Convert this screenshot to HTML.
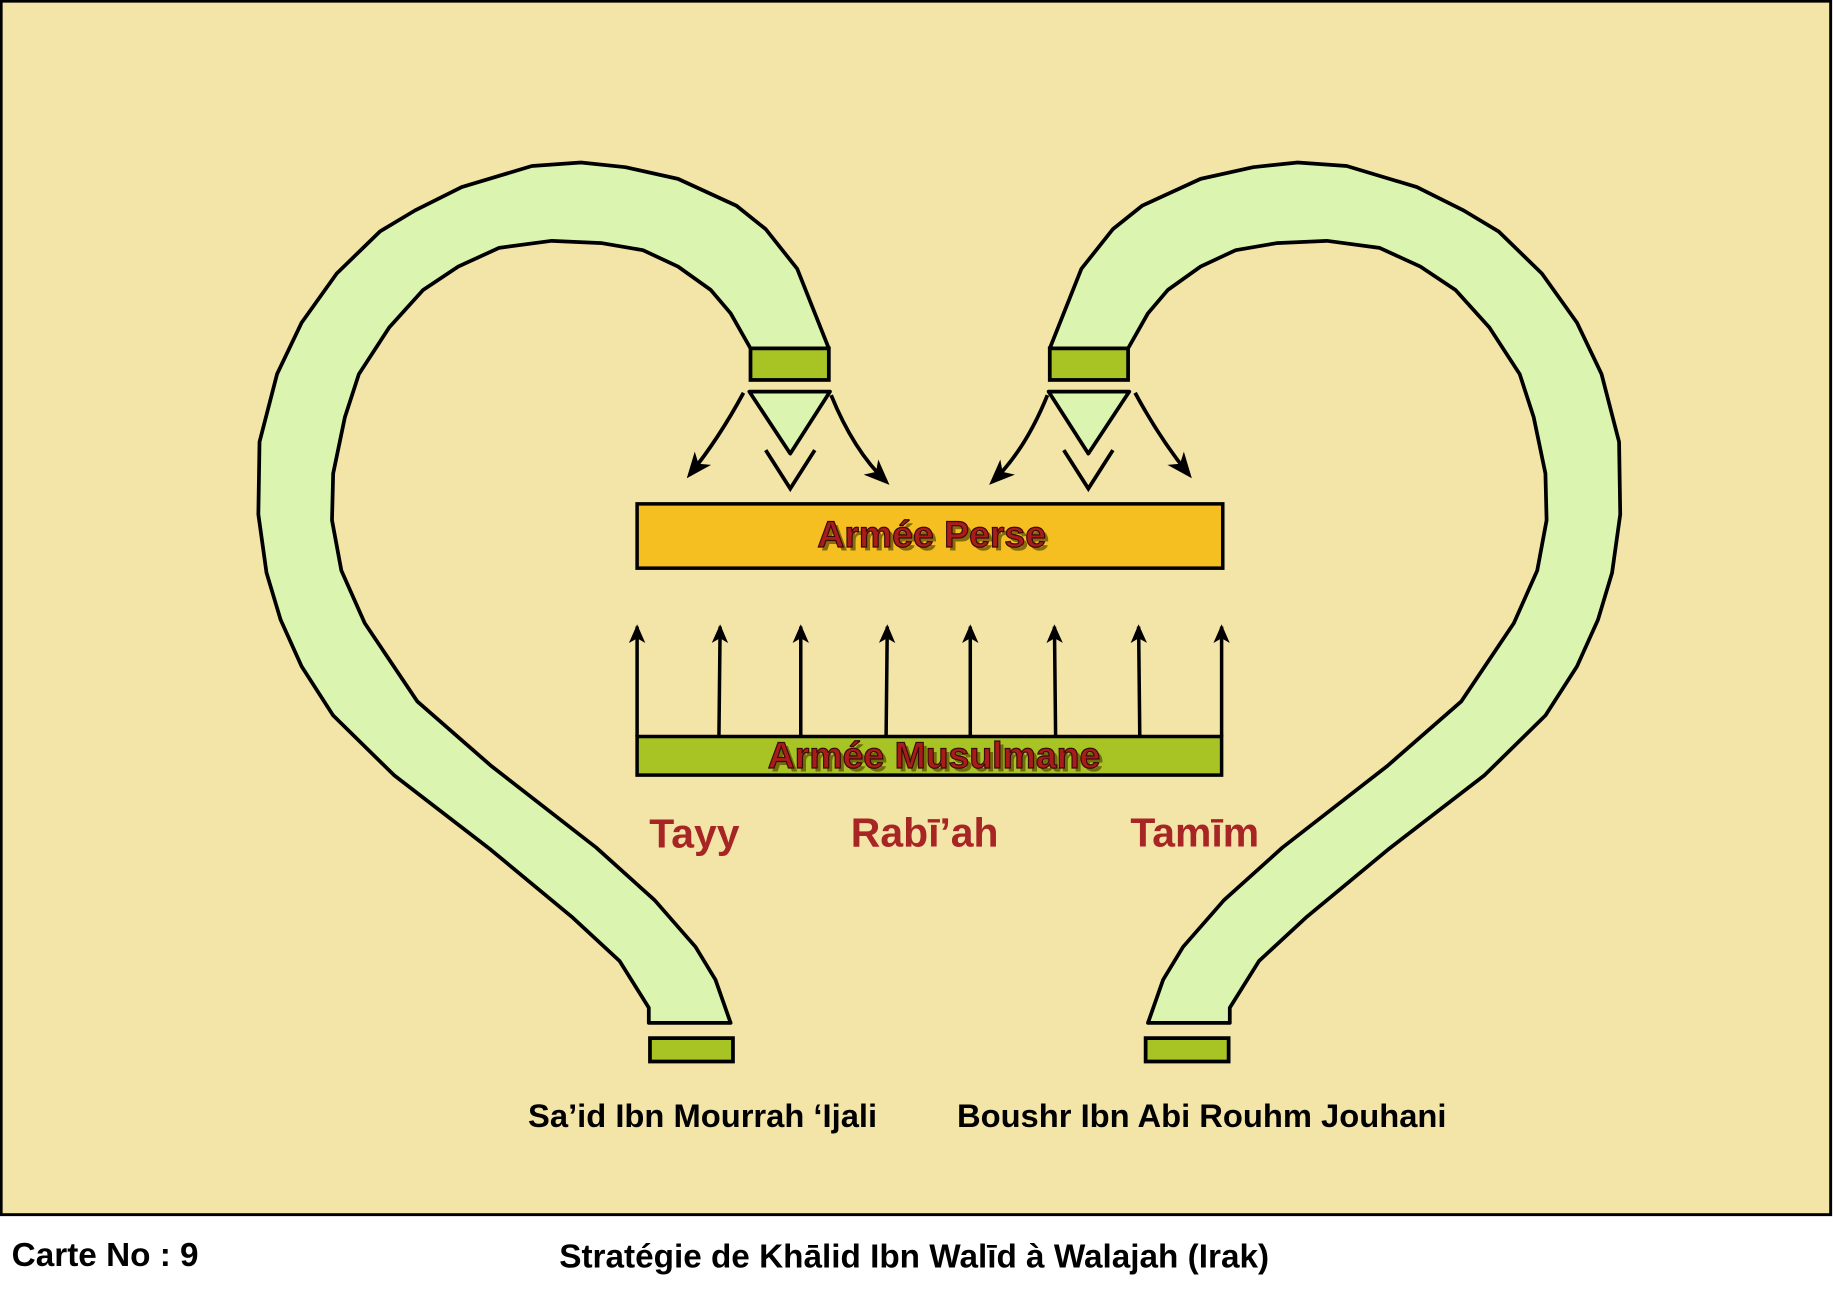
<!DOCTYPE html>
<html><head><meta charset="utf-8"><style>
html,body{margin:0;padding:0;background:#fff;}
svg{display:block}
text{font-family:"Liberation Sans",sans-serif;font-weight:bold}
</style></head><body>
<svg width="1833" height="1300" viewBox="0 0 1568 1112" preserveAspectRatio="none" xmlns="http://www.w3.org/2000/svg">
<defs>
<marker id="ah" markerWidth="16" markerHeight="16" refX="14" refY="8" orient="auto" markerUnits="userSpaceOnUse" viewBox="0 0 16 16">
<path d="M0,1 L16,8 L0,15 L4,8 z" fill="#000"/></marker>
<marker id="ah2" markerWidth="22" markerHeight="22" refX="18" refY="11" orient="auto" markerUnits="userSpaceOnUse" viewBox="0 0 22 22">
<path d="M0,2 L22,11 L0,20 L6,11 z" fill="#000"/></marker>
</defs>
<rect x="1" y="1" width="1565" height="1038" fill="#f3e4a8" stroke="#000" stroke-width="2.5"/>
<g id="band">
<polygon fill="#dbf4b0" stroke="#000" stroke-width="3.2" stroke-linejoin="round" points="709,298 682,230 655,196 630,176 580,153 535,143 497,139 455,142 395,160 355,180 325,198 288,234 258,276 237,320 222,378 221,440 228,490 240,530 258,570 285,612 337,663 420,727 490,785 530,822 555,862 555,875 625,875 612,838 595,810 560,770 510,725 420,655 357,600 312,533 292,488 284,445 285,405 295,357 307,320 333,280 362,248 392,228 427,212 472,206 515,208 550,214 580,228 608,248 625,268 642,298"/>
<rect x="642" y="298" width="67" height="27" fill="#a7c424" stroke="#000" stroke-width="3.2"/>
<polygon points="641,335 710,335 676,388" fill="#dbf4b0" stroke="#000" stroke-width="3.2" stroke-linejoin="round"/>
<polyline points="655,385 676,418 697,385" fill="none" stroke="#000" stroke-width="3.2"/>
<path d="M636,336 Q615,375 590,406" fill="none" stroke="#000" stroke-width="3.2" marker-end="url(#ah2)"/>
<path d="M711,338 Q730,385 758,412" fill="none" stroke="#000" stroke-width="3.2" marker-end="url(#ah2)"/>
<rect x="556" y="888" width="71" height="20" fill="#a7c424" stroke="#000" stroke-width="3.2"/>
</g>
<use href="#band" transform="translate(1607,0) scale(-1,1)"/>
<rect x="545" y="431" width="501" height="55" fill="#f6bf21" stroke="#000" stroke-width="3"/>
<text x="800" y="471" font-size="32" text-anchor="middle" fill="#5a4a00" opacity="0.7">Armée Perse</text>
<text x="797" y="468" font-size="32" text-anchor="middle" fill="#a81c1c" stroke="#3a0a0a" stroke-width="1">Armée Perse</text>
<g stroke="#000" stroke-width="3" marker-end="url(#ah)">
<line x1="545" y1="630" x2="545" y2="536"/>
<line x1="615" y1="630" x2="616" y2="536"/>
<line x1="685" y1="630" x2="685" y2="536"/>
<line x1="758" y1="630" x2="759" y2="536"/>
<line x1="830" y1="630" x2="830" y2="536"/>
<line x1="903" y1="630" x2="902" y2="536"/>
<line x1="975" y1="630" x2="974" y2="536"/>
<line x1="1045" y1="630" x2="1045" y2="536"/>
</g>
<rect x="545" y="630" width="500" height="33" fill="#a7c424" stroke="#000" stroke-width="3"/>
<text x="802" y="660" font-size="32" text-anchor="middle" fill="#5a4a00" opacity="0.7">Armée Musulmane</text>
<text x="799" y="657" font-size="32" text-anchor="middle" fill="#a81c1c" stroke="#3a0a0a" stroke-width="1">Armée Musulmane</text>
<g font-size="35" fill="#a82525" text-anchor="middle">
<text x="594" y="725">Tayy</text>
<text x="791" y="724">Rabī’ah</text>
<text x="1022" y="724">Tamīm</text>
</g>
<g font-size="28" fill="#000">
<text x="601" y="964" text-anchor="middle">Sa’id Ibn Mourrah ‘Ijali</text>
<text x="1028" y="964" text-anchor="middle">Boushr Ibn Abi Rouhm Jouhani</text>
<text x="10" y="1083" font-size="28.5">Carte No : 9</text>
<text x="782" y="1084" text-anchor="middle" font-size="28.5">Stratégie de Khālid Ibn Walīd à Walajah (Irak)</text>
</g>
</svg>
</body></html>
